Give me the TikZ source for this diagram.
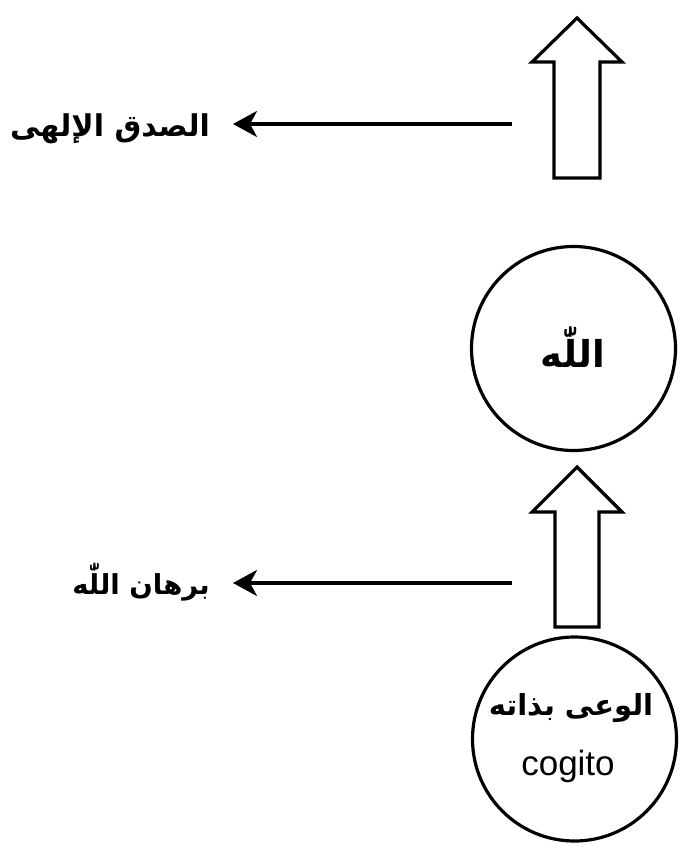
\documentclass[tikz,border=0pt]{standalone}
\usepackage{fontspec}
\setmainfont{Liberation Sans}
\newfontfamily\arabicfont[Script=Arabic]{DejaVu Sans}
\TeXXeTstate=1
\usetikzlibrary{arrows.meta,calc}
\begin{document}
\begin{tikzpicture}[x=1pt,y=-1pt,
  conn/.style={line width=3.4pt,-{Stealth[length=24pt,width=26pt,inset=7pt]}},
  bigarrow/.style={draw,line width=3.2pt,fill=white,line join=miter},
  ring/.style={circle,draw,line width=3.2pt,minimum size=204pt,inner sep=0pt},
  arlab/.style={font=\arabicfont\bfseries\fontsize{30}{34}\selectfont,inner ysep=0pt,inner xsep=23pt},
]
\useasboundingbox[fill=white] (0,0) rectangle (686,848);

% circles
\node[ring] (c1) at (573.5,348.5) {};
\node[font=\arabicfont\bfseries\fontsize{37}{41}\selectfont,inner sep=0pt] (god) at (573,347) {\beginR اللّٰه\endR};
\node[ring] (c2) at (574.5,739) {};
\node[font=\arabicfont\bfseries\fontsize{29}{33}\selectfont,inner sep=0pt] (self) at (571,708) {\beginR الوعى بذاته\endR};
\node[font=\fontsize{35}{38}\selectfont,inner sep=0pt] (cog) at (568,766) {cogito};

% hollow arrows
\coordinate (a1b) at (577,178);
\coordinate (a1t) at (577,18);
\draw[bigarrow] ($(a1b)+(-23,0)$) -- ($(a1b)+(23,0)$) -- ($(a1t)+(23,44)$) -- ($(a1t)+(45,44)$) -- (a1t) -- ($(a1t)+(-45,44)$) -- ($(a1t)+(-23,44)$) -- cycle;

\coordinate (a2b) at (577,627);
\coordinate (a2t) at (577,467);
\draw[bigarrow] ($(a2b)+(-22,0)$) -- ($(a2b)+(22,0)$) -- ($(a2t)+(22,45)$) -- ($(a2t)+(45,45)$) -- (a2t) -- ($(a2t)+(-45,45)$) -- ($(a2t)+(-22,45)$) -- cycle;

% labels and side connectors
\node[arlab,anchor=base east] (l1) at (233,136) {\beginR الصدق الإلهى\endR};
\coordinate (h1) at (512,124);
\draw[conn] (h1) -- (h1 -| l1.east);

\node[arlab,font=\arabicfont\bfseries\fontsize{27.5}{32}\selectfont,anchor=base east] (l2) at (233,594) {\beginR برهان اللّٰه\endR};
\coordinate (h2) at (512,583);
\draw[conn] (h2) -- (h2 -| l2.east);
\end{tikzpicture}
\end{document}
